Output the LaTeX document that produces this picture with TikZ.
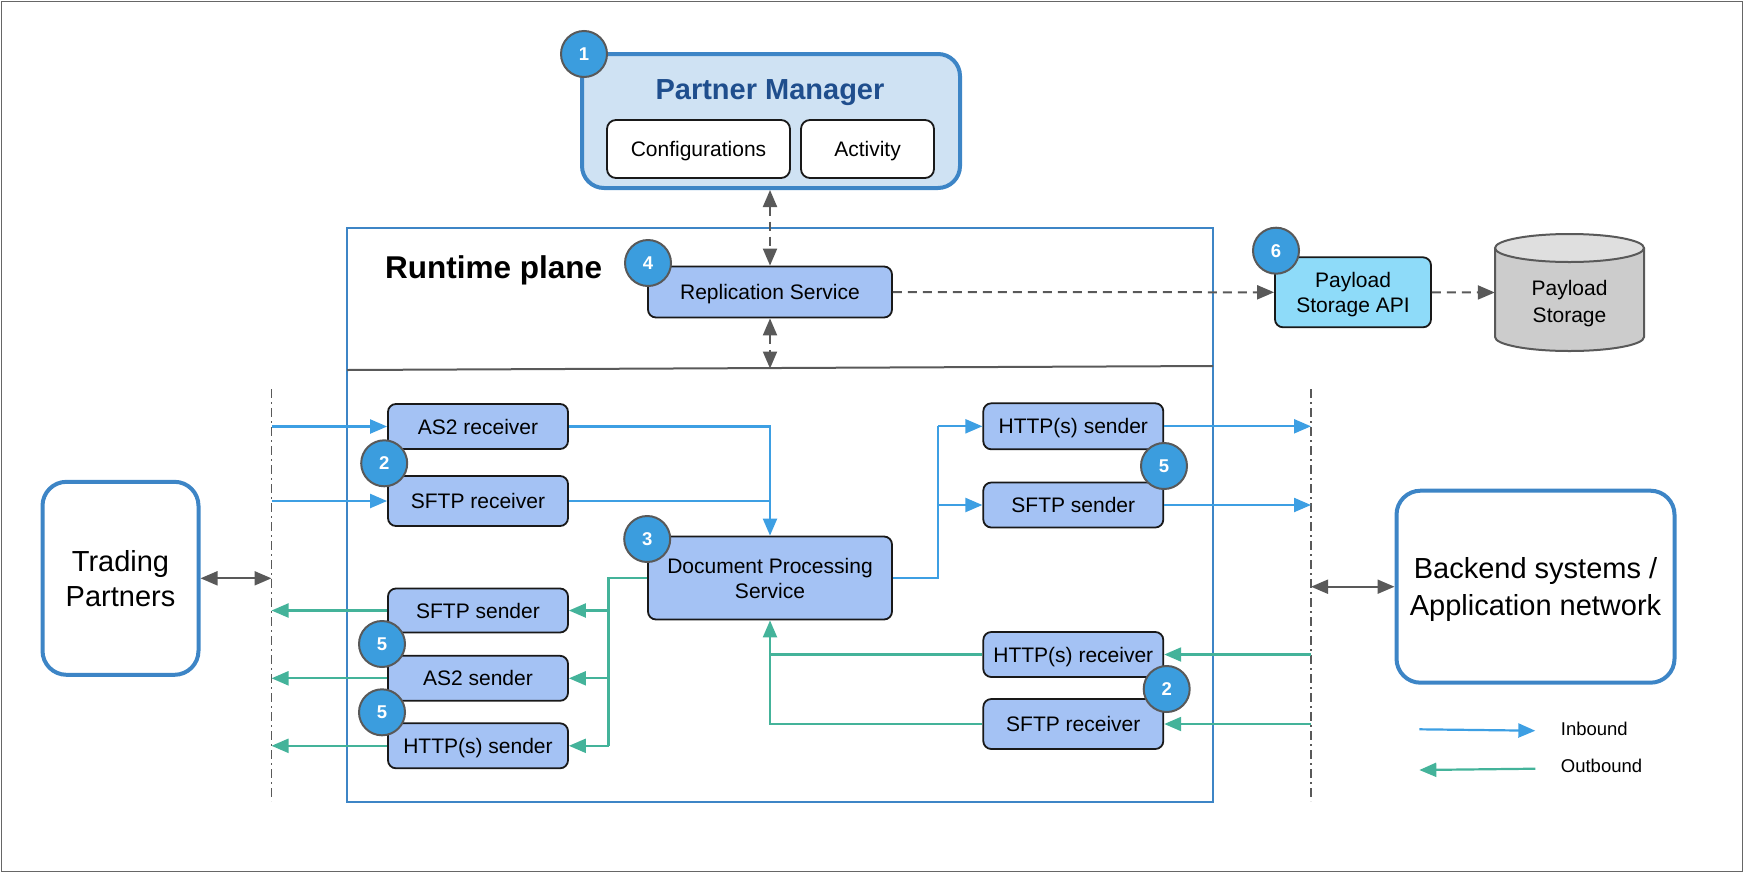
\documentclass[tikz,border=0pt]{standalone}
\usepackage{fontspec}
\setmainfont{Liberation Sans}
\usetikzlibrary{arrows.meta,calc}
\definecolor{boxfill}{HTML}{A4C2F4}
\definecolor{badgefill}{HTML}{3B9DDE}
\definecolor{badgeline}{HTML}{595959}
\definecolor{pmfill}{HTML}{CFE2F3}
\definecolor{pmblue}{HTML}{3D85C6}
\definecolor{pmtitle}{HTML}{1F4E8D}
\definecolor{apifill}{HTML}{8EDBF9}
\definecolor{inblue}{HTML}{3D9FE3}
\definecolor{outgreen}{HTML}{44B39A}
\definecolor{gline}{HTML}{595959}
\definecolor{framegray}{HTML}{666666}
\definecolor{cylbody}{HTML}{CCCCCC}
\definecolor{cyltop}{HTML}{DFDFDF}
\begin{document}
\begin{tikzpicture}[x=1pt,y=-1pt,
  sz/.style 2 args={minimum width=#1pt, minimum height=#2pt},
  box/.style={draw=black!90, line width=1.8pt, fill=boxfill, rounded corners=8pt, inner sep=0pt, align=center, font=\fontsize{21}{25}\selectfont},
  oneline/.style={text height=15pt, text depth=0pt},
  wbox/.style={draw=black!90, line width=1.8pt, fill=white, rounded corners=9pt, inner sep=0pt, align=center, font=\fontsize{21}{25}\selectfont, oneline},
  bigbox/.style={draw=pmblue, line width=4pt, fill=white, rounded corners=24pt, inner sep=0pt, align=center, font=\fontsize{29}{35}\selectfont},
  badge/.style={circle, draw=badgeline, line width=2pt, fill=badgefill, minimum size=46pt, inner sep=0pt, text=white, font=\bfseries\fontsize{18.5}{20}\selectfont},
  arrowhd/.style={-{Triangle[length=17pt,width=14pt]}},
  inl/.style={draw=inblue, line width=2.2pt},
  inb/.style={inl, arrowhd},
  outl/.style={draw=outgreen, line width=2.2pt},
  outb/.style={outl, arrowhd},
  gdash/.style={draw=gline, line width=2pt, dash pattern=on 9pt off 6pt},
  bound/.style={draw=gline, line width=1.8pt, dash pattern=on 9pt off 4pt on 2pt off 4pt},
  both/.style={{Triangle[length=17pt,width=14pt]}-{Triangle[length=17pt,width=14pt]}}
]
\useasboundingbox (0,0) rectangle (1744,873);
\draw[framegray, line width=1.5pt] (1.5,1.5) rectangle (1742.5,871.5);

% Partner Manager
\node[draw=pmblue, line width=4pt, fill=pmfill, rounded corners=22pt, sz={378}{134}, inner sep=0pt] (pm) at (771,121) {};
\node[font=\bfseries\fontsize{29}{34}\selectfont, text=pmtitle, text height=21pt, text depth=0pt] (pmt) at (770,89) {Partner Manager};
\node[wbox, sz={183}{58}] (conf) at (698.5,149) {Configurations};
\node[wbox, sz={133}{58}] (act) at (867.5,149) {Activity};

% Runtime plane
\node[draw=pmblue, line width=1.8pt, sz={866}{574}, inner sep=0pt] (rt) at (780,515) {};
\coordinate (divl) at (347,370);
\coordinate (divr) at (1213,366);
\draw[gline, line width=2pt] (divl) -- (divr);
\node[anchor=west, inner sep=0pt, font=\bfseries\fontsize{31.5}{36}\selectfont, text height=23pt, text depth=0pt] (rtt) at (385,267) {Runtime plane};

\node[box, oneline, sz={244}{51}] (repl) at (770,292) {Replication Service};
\node[box, fill=apifill, sz={156}{70},
  label={[yshift=-2.5pt, align=center, inner sep=0pt, font=\fontsize{21}{25.5}\selectfont]center:Payload\\Storage API}] (api) at (1353,292.3) {};

% cylinder
\fill[cylbody] (1495,248) -- (1495,337) arc[start angle=180, end angle=360, x radius=74.5, y radius=-14] -- (1644,248) -- cycle;
\draw[gline, line width=2pt] (1495,248) -- (1495,337) arc[start angle=180, end angle=360, x radius=74.5, y radius=-14] -- (1644,248);
\draw[gline, line width=2pt, fill=cyltop] (1569.5,248) ellipse[x radius=74.5, y radius=14];
\node[sz={149}{117}, inner sep=0pt,
  label={[yshift=-11pt, align=center, inner sep=0pt, font=\fontsize{21}{26.5}\selectfont]center:Payload\\Storage}] (store) at (1569.5,292.5) {};

% boxes
\node[box, oneline, sz={180}{45}] (as2r) at (478,426.5) {AS2 receiver};
\node[box, oneline, sz={180}{50}] (sftprL) at (478,501) {SFTP receiver};
\node[box, oneline, sz={180}{44}] (sftpsL) at (478,610.5) {SFTP sender};
\node[box, oneline, sz={180}{45}] (as2s) at (478,678.3) {AS2 sender};
\node[box, oneline, sz={180}{45}] (httpsL) at (478,745.8) {HTTP(s) sender};
\node[box, sz={244}{83}] (doc) at (770,578) {Document Processing\\Service};
\node[box, oneline, sz={180}{46}] (httpsR) at (1073.3,426.3) {HTTP(s) sender};
\node[box, oneline, sz={180}{45}] (sftpsR) at (1073.3,505) {SFTP sender};
\node[box, oneline, sz={180}{45}] (httprR) at (1073.3,654.5) {HTTP(s) receiver};
\node[box, oneline, sz={180}{50}] (sftprR) at (1073.3,724) {SFTP receiver};

\node[bigbox, sz={156}{193}] (tp) at (120.5,578.3) {Trading\\Partners};
\node[bigbox, sz={278}{192},
  label={[yshift=-3pt, align=center, inner sep=0pt, font=\fontsize{29}{36.5}\selectfont]center:Backend systems /\\Application network}] (be) at (1535.5,586.7) {};

% boundaries
\draw[bound] (271.5,389) -- (271.5,801);
\draw[bound] (1311,389) -- (1311,801);

% coordinates
\coordinate (lin1) at (271.5,426.5);
\coordinate (lin2) at (271.5,501);
\coordinate (lout1) at (271.5,610.5);
\coordinate (lout2) at (271.5,678.3);
\coordinate (lout3) at (271.5,745.8);
\coordinate (rout1) at (1311,426.3);
\coordinate (rout2) at (1311,505);
\coordinate (rin1) at (1311,654.5);
\coordinate (rin2) at (1311,724);
\coordinate (jr) at (938.3,578);
\coordinate (jl) at (608.5,578);
\coordinate (lmid) at (271.5,578.3);
\coordinate (rmid) at (1311,586.7);

% gray arrows
\draw[gdash, both] (repl.north |- pm.south) -- (repl.north);
\draw[gdash, both] (repl.south) -- (repl.south |- 0,368.5);
\draw[gdash, arrowhd] (repl.east) -- (api.west);
\draw[gdash, arrowhd] (api.east) -- (store.west);
\draw[draw=gline, line width=2pt, both] (tp.east |- lmid) -- (lmid);
\draw[draw=gline, line width=2pt, both] (rmid) -- (be.west |- rmid);

% inbound
\draw[inb] (lin1) -- (as2r.west);
\draw[inb] (lin2) -- (sftprL.west);
\draw[inb] (as2r.east) -| (doc.north);
\draw[inl] (sftprL.east) -- (sftprL.east -| doc.north);
\draw[inl] (doc.east) -- (jr) -- (jr |- httpsR.west);
\draw[inb] (jr |- httpsR.west) -- (httpsR.west);
\draw[inb] (jr |- sftpsR.west) -- (sftpsR.west);
\draw[inb] (httpsR.east) -- (rout1);
\draw[inb] (sftpsR.east) -- (rout2);

% outbound
\draw[outl] (doc.west) -- (jl) -- (jl |- httpsL.east);
\draw[outb] (jl |- sftpsL.east) -- (sftpsL.east);
\draw[outb] (jl |- as2s.east) -- (as2s.east);
\draw[outb] (jl |- httpsL.east) -- (httpsL.east);
\draw[outb] (sftpsL.west) -- (lout1);
\draw[outb] (as2s.west) -- (lout2);
\draw[outb] (httpsL.west) -- (lout3);
\draw[outb] (rin1) -- (httprR.east);
\draw[outb] (rin2) -- (sftprR.east);
\draw[outb] (httprR.west) -| (doc.south);
\draw[outl] (sftprR.west) -- (sftprR.west -| doc.south) -- (httprR.west -| doc.south);

% badges
\node[badge] (b1) at (584,54) {1};
\node[badge] (b4) at (648,263) {4};
\node[badge] (b6) at (1276,250.7) {6};
\node[badge] (b2l) at (384.2,463.3) {2};
\node[badge] (b3) at (647.2,539) {3};
\node[badge] (b5r) at (1164,466) {5};
\node[badge] (b5l1) at (382,644) {5};
\node[badge] (b5l2) at (382,712.3) {5};
\node[badge] (b2r) at (1166.7,689) {2};

% legend
\coordinate (lg1a) at (1419.3,729.3);
\coordinate (lg1b) at (1535.3,730.7);
\coordinate (lg2a) at (1535.3,768.7);
\coordinate (lg2b) at (1419.3,770);
\draw[inb] (lg1a) -- (lg1b);
\draw[outb] (lg2a) -- (lg2b);
\node[anchor=west, inner sep=0pt, font=\fontsize{18.5}{22}\selectfont] (lgin) at (1560.7,728.7) {Inbound};
\node[anchor=west, inner sep=0pt, font=\fontsize{18.5}{22}\selectfont] (lgout) at (1560.7,766) {Outbound};
\end{tikzpicture}
\end{document}
